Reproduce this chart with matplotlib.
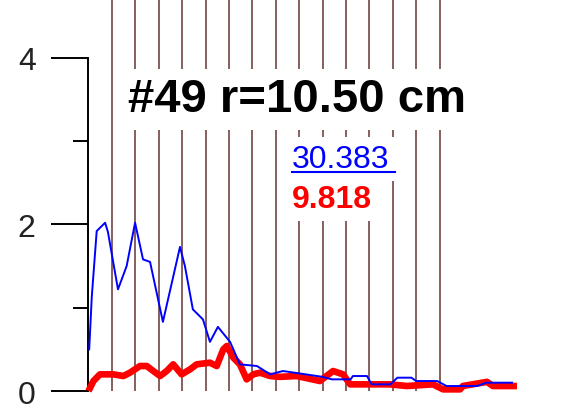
import matplotlib
matplotlib.use("Agg")
import matplotlib.pyplot as plt
from matplotlib.lines import Line2D

# ---- data ----
blue_x = [0.03, 0.14, 0.35, 0.71, 0.83, 1.26, 1.63, 1.99, 2.33, 2.63, 3.18, 3.91,
          4.12, 4.46, 4.89, 5.19, 5.53, 6.05, 6.47, 7.20, 7.76, 8.31, 9.04, 10.0,
          10.4, 11.2, 11.3, 11.9, 12.1, 12.9, 13.2, 13.8, 14.0, 14.9, 15.3, 16.6,
          17.0, 18.1]
blue_y = [0.50, 1.13, 1.92, 2.02, 1.91, 1.22, 1.50, 2.02, 1.58, 1.55, 0.83, 1.73,
          1.50, 0.98, 0.86, 0.59, 0.77, 0.59, 0.32, 0.30, 0.20, 0.24, 0.21, 0.17,
          0.14, 0.14, 0.18, 0.18, 0.08, 0.08, 0.16, 0.16, 0.12, 0.12, 0.06, 0.06,
          0.10, 0.10]

red_x = [0.0, 0.21, 0.49, 1.06, 1.49, 1.77, 2.2, 2.49, 2.77, 3.06, 3.34, 3.62,
         3.98, 4.34, 4.62, 5.19, 5.48, 5.76, 5.91, 6.19, 6.47, 6.76, 7.04, 7.33,
         7.76, 8.18, 8.9, 9.89, 10.45, 10.88, 11.18, 12.03, 12.88, 13.6, 14.72,
         15.15, 15.88, 16.0, 17.03, 17.28, 18.31]
red_y = [0.0, 0.12, 0.20, 0.20, 0.18, 0.22, 0.30, 0.30, 0.24, 0.18, 0.24, 0.32,
         0.20, 0.26, 0.32, 0.34, 0.30, 0.50, 0.54, 0.40, 0.32, 0.14, 0.20, 0.22,
         0.18, 0.17, 0.18, 0.12, 0.24, 0.20, 0.08, 0.08, 0.08, 0.06, 0.08,
         0.02, 0.02, 0.06, 0.11, 0.06, 0.06]

grid_x = list(range(1, 16))
major_ticks = [0, 2, 4]
minor_ticks = [1, 3]
title_text = "#49 r=10.50 cm"
blue_value = "30.383"
red_value = "9.818"

# ---- figure ----
fig = plt.figure(figsize=(5.88, 4.14), dpi=100)
ax = fig.add_axes([0, 0, 1, 1])
ax.set_xlim(-3.782, 21.346)
ax.set_ylim(-0.264, 4.706)

ax.vlines(grid_x, 0, 4.706, colors="#7d5252", linewidth=1.3, zorder=1)

ax.plot(red_x, red_y, color="#ff0000", linewidth=4.8, solid_capstyle="butt", zorder=3)
ax.plot(blue_x, blue_y, color="#0000ff", linewidth=1.4, zorder=4)

for s in ["top", "right", "bottom"]:
    ax.spines[s].set_visible(False)
ax.spines["left"].set_position(("data", 0))
ax.spines["left"].set_bounds(0, 4)
ax.spines["left"].set_linewidth(1.4)
ax.spines["left"].set_zorder(2)
ax.set_xticks([])
ax.set_yticks(major_ticks)
ax.set_yticks(minor_ticks, minor=True)
ax.tick_params(axis="y", which="major", length=27, width=1.4, pad=11,
               labelsize=23, labelcolor="#222222")
ax.tick_params(axis="y", which="minor", length=11, width=1.4)
for lab in ax.get_yticklabels():
    lab.set_family("Liberation Sans")

# partially visible label at the top edge (cut off in the reference too)
ax.text(-2.29, 4.65, "6", ha="right", va="bottom", fontsize=23,
        family="Liberation Sans", color="#222222")

ax.text(8.93, 3.50, title_text, ha="center", va="center", fontsize=34,
        family="Liberation Sans", fontweight="bold", color="black", zorder=5,
        bbox=dict(facecolor="white", edgecolor="none", pad=6))

tb = ax.text(8.68, 2.689, blue_value, ha="left", va="baseline", fontsize=23,
             family="Liberation Sans", color="#0000ff", zorder=5,
             bbox=dict(facecolor="white", edgecolor="none", pad=5))
ax.text(8.70, 2.209, red_value, ha="left", va="baseline", fontsize=23,
        family="Liberation Sans", fontweight="bold", color="#ff0000", zorder=5,
        bbox=dict(facecolor="white", edgecolor="none", pad=5))

# underline under the blue value, derived from the text extent
fig.canvas.draw()
r = fig.canvas.get_renderer()
ext = tb.get_window_extent(renderer=r)
descent = ext.height * 0.19
y_ul = ext.y0 + descent - 4
fig.add_artist(Line2D([ext.x0, ext.x1 + 6], [y_ul, y_ul], transform=None,
                      color="#0000ff", linewidth=1.5, zorder=6))

fig.savefig("out.png", dpi=100)
